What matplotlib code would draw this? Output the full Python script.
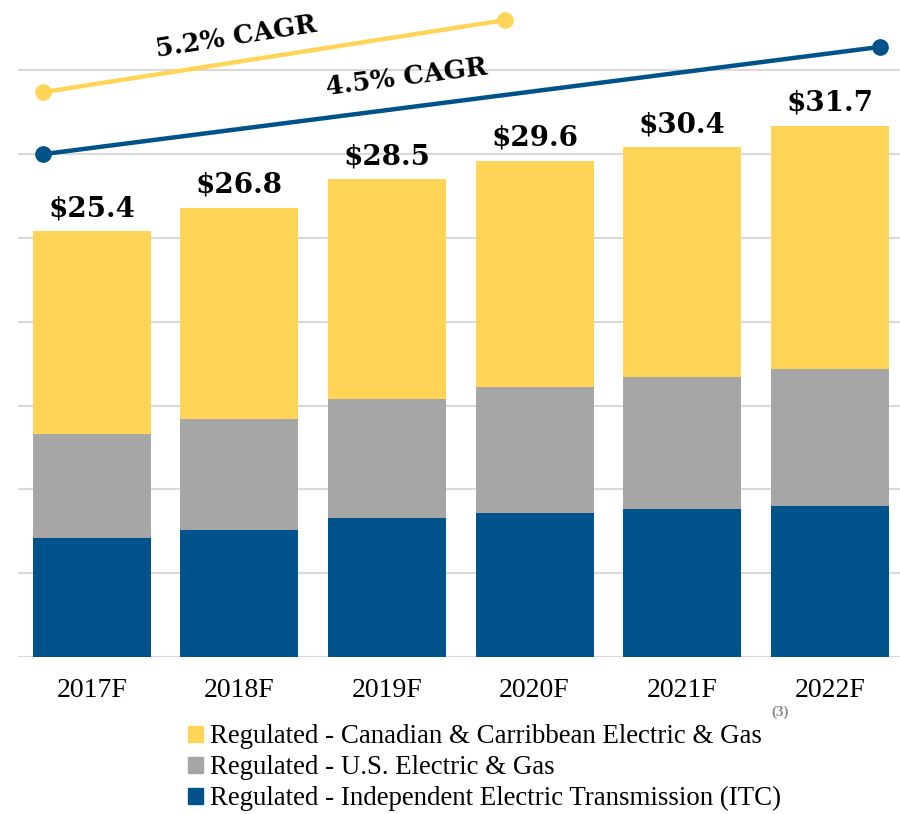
import matplotlib
matplotlib.use('Agg')
from matplotlib import pyplot as plt
from matplotlib.patches import Patch

years = ['2017F', '2018F', '2019F', '2020F', '2021F', '2022F']
itc = [7.1, 7.6, 8.3, 8.6, 8.8, 9.0]
us_gas = [6.2, 6.6, 7.1, 7.5, 7.9, 8.2]
totals = [25.4, 26.8, 28.5, 29.6, 30.4, 31.7]
canadian = [t - a - b for t, a, b in zip(totals, itc, us_gas)]
value_labels = ['$25.4', '$26.8', '$28.5', '$29.6', '$30.4', '$31.7']

# CAGR guide lines (x in bar index units, y in $B)
cagr_52_x = [-0.33, 2.8]
cagr_52_y = [33.7, 38.0]
cagr_45_x = [-0.33, 5.34]
cagr_45_y = [30.0, 36.4]

YELLOW = '#FFD457'
GRAY = '#A6A6A6'
BLUE = '#00528A'

fig = plt.figure(figsize=(9, 8.14), dpi=100)
ax = fig.add_axes([0.02, 0.193, 0.98, 0.807])

x = range(len(years))
ax.bar(x, itc, width=0.8, color=BLUE, zorder=2)
ax.bar(x, us_gas, width=0.8, bottom=itc, color=GRAY, zorder=2)
bottoms = [a + b for a, b in zip(itc, us_gas)]
ax.bar(x, canadian, width=0.8, bottom=bottoms, color=YELLOW, zorder=2)

for i, t in enumerate(totals):
    ax.text(i, t + 0.9, value_labels[i], ha='center', va='baseline',
            fontsize=20, fontweight='bold', family='DejaVu Serif', zorder=3)

ax.plot(cagr_52_x, cagr_52_y, color=YELLOW, lw=3.2, marker='o', markersize=11,
        zorder=3, clip_on=False)
ax.plot(cagr_45_x, cagr_45_y, color=BLUE, lw=3.2, marker='o', markersize=11,
        zorder=3, clip_on=False)
ax.text(0.98, 37.0, '5.2% CAGR', rotation=9, rotation_mode='anchor',
        ha='center', va='center', fontsize=18.5, fontweight='bold',
        family='DejaVu Serif')
ax.text(2.13, 34.6, '4.5% CAGR', rotation=7.3, rotation_mode='anchor',
        ha='center', va='center', fontsize=18.5, fontweight='bold',
        family='DejaVu Serif')

ax.set_xlim(-0.5, 5.476)
ax.set_ylim(0, 39.2)
ax.set_yticks(range(0, 40, 5))
ax.yaxis.grid(True, color='#D9D9D9', lw=1.5, zorder=0)
ax.tick_params(axis='y', left=False, labelleft=False)
ax.tick_params(axis='x', bottom=False, pad=12)
ax.set_xticks(list(x))
ax.set_xticklabels(years, fontsize=20, family='Liberation Serif')
for s in ax.spines.values():
    s.set_visible(False)

handles = [Patch(color=YELLOW), Patch(color=GRAY), Patch(color=BLUE)]
labels = ['Regulated - Canadian & Carribbean Electric & Gas',
          'Regulated - U.S. Electric & Gas',
          'Regulated - Independent Electric Transmission (ITC)']
fig.legend(handles, labels, loc='upper left', bbox_to_anchor=(0.209, 0.11),
           frameon=False, prop={'family': 'Liberation Serif', 'size': 19.4},
           handlelength=0.55, handleheight=0.55, handletextpad=0.26,
           labelspacing=0.22, borderaxespad=0, borderpad=0)
fig.text(780 / 900, 1 - 712 / 814, '(3)', color='#8C8C8C', fontsize=11,
         fontweight='bold', family='Liberation Serif', ha='center', va='center')

fig.savefig('out.png', dpi=100)
